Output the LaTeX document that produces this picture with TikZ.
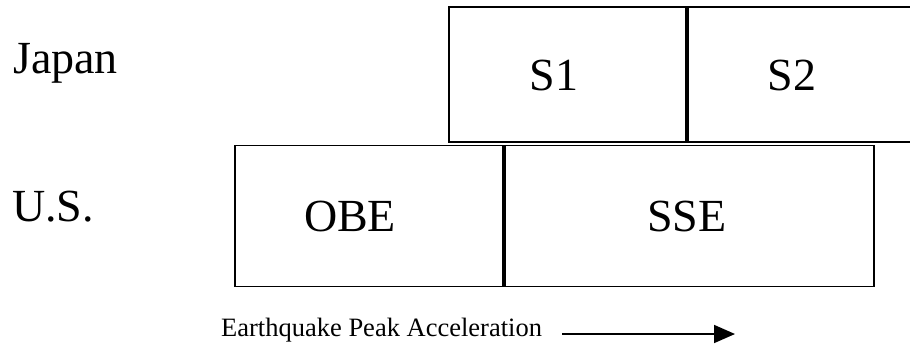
\documentclass[tikz,border=0pt]{standalone}
\usepackage{fontspec}
\setmainfont{Liberation Serif}
\usetikzlibrary{arrows.meta}

\tikzset{
  band/.style={draw=black, line width=1.7bp, rectangle, inner sep=0pt},
  bigtext/.style={inner sep=0pt, font=\fontsize{46bp}{50bp}\selectfont},
  smalltext/.style={inner sep=0pt, font=\fontsize{26.5bp}{29bp}\selectfont},
  rise/.style={line width=1.7bp, -{Triangle[length=21bp,width=18bp]}}
}

\begin{document}
\begin{tikzpicture}[x=1bp,y=-1bp]
  % page frame; the Japanese band runs off the right edge
  \clip (0,0) rectangle (910,347);
  \fill[white] (0,0) rectangle (910,347);

  % row labels
  \node[bigtext, anchor=base west] (jp) at (13,73) {Japan};
  \node[bigtext, anchor=base west] (us) at (12,221) {U.S.};

  % Japanese levels
  \node[band, minimum width=237bp, minimum height=135bp] (s1box) at (567.5,74.5) {};
  \node[band, minimum width=240bp, minimum height=135bp, anchor=west] (s2box) at (s1box.east) {};
  \node[bigtext] (s1) at (554,75) {S1};
  \node[bigtext] (s2) at (792,75) {S2};

  % U.S. levels
  \node[band, minimum width=268bp, minimum height=141bp] (obebox) at (369,216) {};
  \node[band, minimum width=369bp, minimum height=141bp, anchor=west] (ssebox) at (obebox.east) {};
  \node[bigtext] (obe) at (350,216) {OBE};
  \node[bigtext] (sse) at (687,216) {SSE};

  % axis caption
  \node[smalltext, anchor=base west] (cap) at (221,336) {Earthquake Peak Acceleration};
  \coordinate (arrowstart) at (562,334);
  \coordinate (arrowend) at (735,334);
  \draw[rise] (arrowstart) -- (arrowend);
\end{tikzpicture}
\end{document}
